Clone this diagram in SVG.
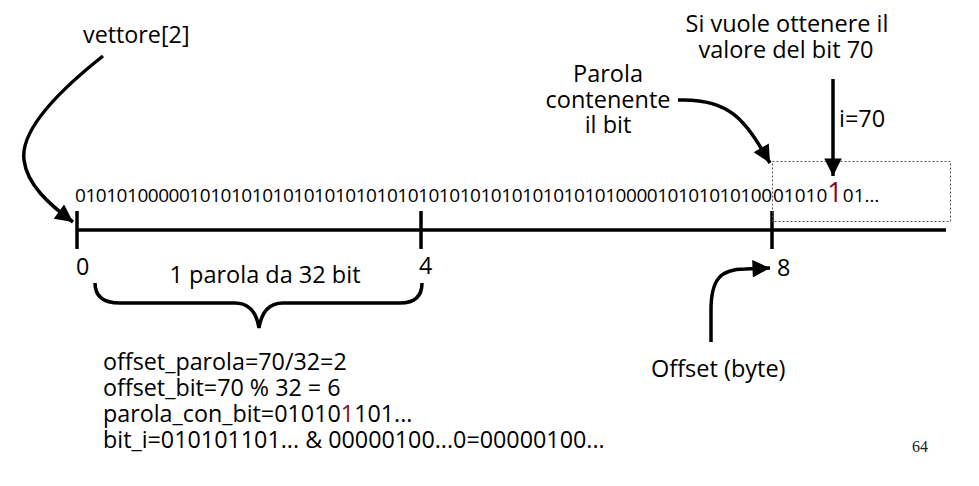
<svg xmlns="http://www.w3.org/2000/svg" width="979" height="486" viewBox="0 0 979 486">
<style>
text{font-family:"Open Sans","Noto Sans","Liberation Sans",sans-serif;fill:#000}
.lbl{font-size:23.5px}
.f{font-size:23.3px}
.bits{font-size:19px}
.red{fill:#8b0a1a}
.ln{fill:none;stroke:#000;stroke-width:3.5}
.thick{fill:none;stroke:#000;stroke-width:3.5}
.pg{font-family:"Liberation Serif","DejaVu Serif",serif;font-size:16px;fill:#222}
</style>
<defs>
<marker id="ah" viewBox="0 0 10 10" refX="10" refY="5" markerWidth="6" markerHeight="5" markerUnits="strokeWidth" orient="auto">
<path d="M0,0 L10,5 L0,10 z" fill="#000"/>
</marker>
</defs>
<rect width="979" height="486" fill="#fff"/>

<g id="axis">
<line class="thick" x1="77" y1="230" x2="946" y2="230"/>
<line class="thick" x1="77" y1="211" x2="77" y2="249"/>
<line class="thick" x1="421" y1="211" x2="421" y2="249"/>
<line class="thick" x1="772" y1="211" x2="772" y2="249"/>
</g>

<g id="word-box">
<rect x="772.5" y="161.5" width="178" height="60" fill="none" stroke="#555" stroke-width="1" stroke-dasharray="2,2"/>
</g>

<g id="bitstring">
<text class="bits" x="75" y="202" textLength="697" lengthAdjust="spacing">0101010000010101010101010101010101010101010101010101000010101010100</text>
<text class="bits" x="773" y="202">01010<tspan class="red" font-size="27">1</tspan>01…</text>
</g>

<g id="labels-axis">
<text class="f" x="76" y="275">0</text>
<text class="f" x="419" y="274">4</text>
<text class="f" x="777" y="276">8</text>
<text class="lbl" x="265" y="283" text-anchor="middle">1 parola da 32 bit</text>
</g>

<g id="brace">
<path class="ln" d="M95,283 Q95,303 120,303 L235,303 Q255,303 259,328 Q263,303 283,303 L400,303 Q422,303 422,283"/>
</g>

<g id="vettore">
<text class="f" x="83" y="43">vettore[2]</text>
</g>

<g id="parola">
<text class="lbl" text-anchor="middle" x="608" y="82">Parola</text>
<text class="lbl" text-anchor="middle" x="608" y="108">contenente</text>
<text class="lbl" text-anchor="middle" x="608" y="133">il bit</text>
</g>

<g id="si-vuole">
<text class="lbl" text-anchor="middle" x="787" y="32">Si vuole ottenere il</text>
<text class="lbl" text-anchor="middle" x="786" y="58">valore del bit 70</text>
<text class="lbl" x="839" y="127">i=70</text>
</g>

<g id="offset-byte">
<text class="lbl" x="651" y="377">Offset (byte)</text>
</g>

<g id="formulas">
<text class="f" x="103" y="370">offset_parola=70/32=2</text>
<text class="f" x="103" y="396">offset_bit=70 % 32 = 6</text>
<text class="f" x="103" y="422">parola_con_bit=01010<tspan class="red">1</tspan>101...</text>
<text class="f" x="103" y="448">bit_i=010101101... &amp; 00000100...0=00000100...</text>
</g>

<g id="page">
<text class="pg" x="912" y="452">64</text>
</g>

<g id="connectors">
<path class="ln" d="M103,56 C60,90 20,130 24,160 C27,185 50,205 73,222" marker-end="url(#ah)"/>
<path class="ln" d="M678,100 C730,98 745,120 770,163" marker-end="url(#ah)"/>
<path class="ln" d="M833,79 L833,176" marker-end="url(#ah)"/>
<path class="ln" d="M711,342 L711,310 C711,280 720,269 745,269 L770,268" marker-end="url(#ah)"/>
</g>
</svg>
